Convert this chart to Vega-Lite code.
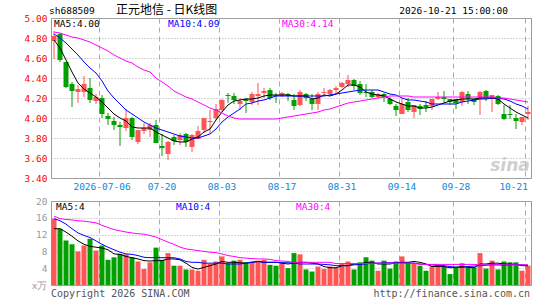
{
  "$schema": "https://vega.github.io/schema/vega-lite/v6.json",
  "padding": {"left": 5, "top": 3, "right": 5, "bottom": 2},
  "background": "white",
  "spacing": 23,
  "bounds": "flush",
  "config": {
    "view": {"stroke": "#999", "strokeWidth": 1},
    "font": "DejaVu Sans Mono",
    "axis": {"labelFont": "DejaVu Sans Mono", "labelFontSize": 9.5, "labelOverlap": false}
  },
  "datasets": {
    "k": [
      {"d":"2026-06-24","o":4.77,"h":4.87,"l":4.59,"c":4.82,"v":15.8,"m5":4.78,"m10":4.84,"m30":4.86,"vm5":13.4,"vm10":15.8,"vm30":16.4},
      {"d":"2026-06-25","o":4.84,"h":4.85,"l":4.56,"c":4.58,"v":13.4,"m5":4.70,"m10":4.80,"m30":4.85,"vm5":13.4,"vm10":15.3,"vm30":15.8},
      {"d":"2026-06-26","o":4.56,"h":4.56,"l":4.30,"c":4.31,"v":10.6,"m5":4.58,"m10":4.75,"m30":4.83,"vm5":12.6,"vm10":14.5,"vm30":15.6},
      {"d":"2026-06-29","o":4.34,"h":4.36,"l":4.11,"c":4.27,"v":9.7,"m5":4.46,"m10":4.69,"m30":4.81,"vm5":11.6,"vm10":13.4,"vm30":15.5},
      {"d":"2026-06-30","o":4.26,"h":4.33,"l":4.15,"c":4.29,"v":8.0,"m5":4.35,"m10":4.63,"m30":4.80,"vm5":10.5,"vm10":12.4,"vm30":15.3},
      {"d":"2026-07-01","o":4.26,"h":4.42,"l":4.21,"c":4.34,"v":9.4,"m5":4.29,"m10":4.56,"m30":4.78,"vm5":9.7,"vm10":11.8,"vm30":15.2},
      {"d":"2026-07-02","o":4.30,"h":4.40,"l":4.15,"c":4.18,"v":11.0,"m5":4.25,"m10":4.50,"m30":4.76,"vm5":9.2,"vm10":11.3,"vm30":15.0},
      {"d":"2026-07-03","o":4.17,"h":4.24,"l":4.14,"c":4.21,"v":8.2,"m5":4.21,"m10":4.45,"m30":4.73,"vm5":9.0,"vm10":10.5,"vm30":14.8},
      {"d":"2026-07-06","o":4.20,"h":4.23,"l":4.00,"c":4.04,"v":9.4,"m5":4.16,"m10":4.37,"m30":4.70,"vm5":8.8,"vm10":9.7,"vm30":14.2},
      {"d":"2026-07-07","o":4.02,"h":4.05,"l":3.93,"c":3.99,"v":6.0,"m5":4.10,"m10":4.27,"m30":4.67,"vm5":8.4,"vm10":9.0,"vm30":13.7},
      {"d":"2026-07-08","o":3.97,"h":4.01,"l":3.88,"c":3.93,"v":6.6,"m5":4.04,"m10":4.20,"m30":4.63,"vm5":7.4,"vm10":8.4,"vm30":13.2},
      {"d":"2026-07-09","o":3.93,"h":3.96,"l":3.72,"c":3.91,"v":7.4,"m5":4.00,"m10":4.14,"m30":4.60,"vm5":7.3,"vm10":7.8,"vm30":12.9},
      {"d":"2026-07-10","o":3.90,"h":4.09,"l":3.87,"c":4.00,"v":7.3,"m5":3.97,"m10":4.08,"m30":4.57,"vm5":6.8,"vm10":7.4,"vm30":12.6},
      {"d":"2026-07-13","o":4.00,"h":4.01,"l":3.78,"c":3.81,"v":6.6,"m5":3.91,"m10":4.04,"m30":4.55,"vm5":6.5,"vm10":7.3,"vm30":12.4},
      {"d":"2026-07-14","o":3.76,"h":3.88,"l":3.74,"c":3.88,"v":5.6,"m5":3.90,"m10":4.00,"m30":4.51,"vm5":6.2,"vm10":7.0,"vm30":12.2},
      {"d":"2026-07-15","o":3.87,"h":3.95,"l":3.84,"c":3.90,"v":3.8,"m5":3.90,"m10":3.96,"m30":4.48,"vm5":5.8,"vm10":6.6,"vm30":12.1},
      {"d":"2026-07-16","o":3.88,"h":3.95,"l":3.81,"c":3.93,"v":5.4,"m5":3.90,"m10":3.93,"m30":4.46,"vm5":5.7,"vm10":6.5,"vm30":11.8},
      {"d":"2026-07-17","o":3.93,"h":3.98,"l":3.75,"c":3.75,"v":8.9,"m5":3.86,"m10":3.90,"m30":4.40,"vm5":5.8,"vm10":6.5,"vm30":11.4},
      {"d":"2026-07-20","o":3.72,"h":3.84,"l":3.62,"c":3.70,"v":6.0,"m5":3.83,"m10":3.88,"m30":4.36,"vm5":5.8,"vm10":6.5,"vm30":10.8},
      {"d":"2026-07-21","o":3.64,"h":3.77,"l":3.58,"c":3.76,"v":7.6,"m5":3.80,"m10":3.86,"m30":4.32,"vm5":6.2,"vm10":6.5,"vm30":10.2},
      {"d":"2026-07-22","o":3.81,"h":3.83,"l":3.73,"c":3.77,"v":4.6,"m5":3.77,"m10":3.84,"m30":4.27,"vm5":6.2,"vm10":6.5,"vm30":9.7},
      {"d":"2026-07-23","o":3.78,"h":3.85,"l":3.73,"c":3.83,"v":4.6,"m5":3.76,"m10":3.82,"m30":4.24,"vm5":6.0,"vm10":6.2,"vm30":9.0},
      {"d":"2026-07-24","o":3.84,"h":3.85,"l":3.71,"c":3.76,"v":3.7,"m5":3.76,"m10":3.81,"m30":4.21,"vm5":5.2,"vm10":5.6,"vm30":8.6},
      {"d":"2026-07-27","o":3.71,"h":3.84,"l":3.66,"c":3.83,"v":3.7,"m5":3.79,"m10":3.80,"m30":4.19,"vm5":4.2,"vm10":5.4,"vm30":8.4},
      {"d":"2026-07-28","o":3.79,"h":3.92,"l":3.79,"c":3.87,"v":3.4,"m5":3.81,"m10":3.80,"m30":4.16,"vm5":3.8,"vm10":5.4,"vm30":8.2},
      {"d":"2026-07-29","o":3.88,"h":4.00,"l":3.85,"c":4.00,"v":6.0,"m5":3.86,"m10":3.82,"m30":4.13,"vm5":4.2,"vm10":5.2,"vm30":8.0},
      {"d":"2026-07-30","o":3.96,"h":4.08,"l":3.84,"c":3.97,"v":5.0,"m5":3.89,"m10":3.84,"m30":4.10,"vm5":4.6,"vm10":5.2,"vm30":7.8},
      {"d":"2026-07-31","o":4.00,"h":4.14,"l":3.98,"c":4.09,"v":5.6,"m5":3.98,"m10":3.89,"m30":4.08,"vm5":5.0,"vm10":5.2,"vm30":7.7},
      {"d":"2026-08-03","o":4.08,"h":4.19,"l":4.06,"c":4.18,"v":6.8,"m5":4.06,"m10":3.96,"m30":4.05,"vm5":5.6,"vm10":5.2,"vm30":7.4},
      {"d":"2026-08-04","o":4.23,"h":4.25,"l":4.15,"c":4.22,"v":5.2,"m5":4.13,"m10":4.01,"m30":4.02,"vm5":5.4,"vm10":5.0,"vm30":7.0},
      {"d":"2026-08-05","o":4.22,"h":4.25,"l":4.14,"c":4.18,"v":5.8,"m5":4.17,"m10":4.05,"m30":4.00,"vm5":5.4,"vm10":5.0,"vm30":6.8},
      {"d":"2026-08-06","o":4.14,"h":4.20,"l":4.08,"c":4.17,"v":6.0,"m5":4.18,"m10":4.09,"m30":3.99,"vm5":5.3,"vm10":5.0,"vm30":6.5},
      {"d":"2026-08-07","o":4.19,"h":4.20,"l":4.05,"c":4.17,"v":5.4,"m5":4.19,"m10":4.14,"m30":3.99,"vm5":5.2,"vm10":5.2,"vm30":6.4},
      {"d":"2026-08-10","o":4.16,"h":4.26,"l":4.13,"c":4.24,"v":5.6,"m5":4.19,"m10":4.15,"m30":3.99,"vm5":5.4,"vm10":5.4,"vm30":6.3},
      {"d":"2026-08-11","o":4.22,"h":4.35,"l":4.13,"c":4.24,"v":5.8,"m5":4.20,"m10":4.17,"m30":3.99,"vm5":5.6,"vm10":5.6,"vm30":6.2},
      {"d":"2026-08-12","o":4.25,"h":4.30,"l":4.20,"c":4.27,"v":6.0,"m5":4.22,"m10":4.18,"m30":3.99,"vm5":5.4,"vm10":5.4,"vm30":6.2},
      {"d":"2026-08-13","o":4.28,"h":4.30,"l":4.18,"c":4.20,"v":4.8,"m5":4.23,"m10":4.20,"m30":3.99,"vm5":5.4,"vm10":5.4,"vm30":6.1},
      {"d":"2026-08-14","o":4.23,"h":4.25,"l":4.15,"c":4.22,"v":4.6,"m5":4.23,"m10":4.22,"m30":3.99,"vm5":5.4,"vm10":5.4,"vm30":5.8},
      {"d":"2026-08-17","o":4.22,"h":4.26,"l":4.21,"c":4.25,"v":5.2,"m5":4.23,"m10":4.22,"m30":4.00,"vm5":5.2,"vm10":5.3,"vm30":5.7},
      {"d":"2026-08-18","o":4.24,"h":4.25,"l":4.17,"c":4.22,"v":4.0,"m5":4.23,"m10":4.22,"m30":4.01,"vm5":5.0,"vm10":5.3,"vm30":5.6},
      {"d":"2026-08-19","o":4.18,"h":4.24,"l":4.08,"c":4.12,"v":7.6,"m5":4.22,"m10":4.22,"m30":4.02,"vm5":5.2,"vm10":5.2,"vm30":5.4},
      {"d":"2026-08-20","o":4.13,"h":4.28,"l":4.12,"c":4.26,"v":7.3,"m5":4.22,"m10":4.22,"m30":4.03,"vm5":5.4,"vm10":5.0,"vm30":5.4},
      {"d":"2026-08-21","o":4.24,"h":4.25,"l":4.17,"c":4.20,"v":3.7,"m5":4.22,"m10":4.22,"m30":4.04,"vm5":5.4,"vm10":5.0,"vm30":5.4},
      {"d":"2026-08-24","o":4.19,"h":4.24,"l":4.08,"c":4.14,"v":3.2,"m5":4.19,"m10":4.22,"m30":4.05,"vm5":5.2,"vm10":5.0,"vm30":5.4},
      {"d":"2026-08-25","o":4.14,"h":4.26,"l":4.08,"c":4.24,"v":4.4,"m5":4.20,"m10":4.22,"m30":4.06,"vm5":5.0,"vm10":5.0,"vm30":5.4},
      {"d":"2026-08-26","o":4.25,"h":4.30,"l":4.22,"c":4.26,"v":3.8,"m5":4.23,"m10":4.22,"m30":4.08,"vm5":4.4,"vm10":4.9,"vm30":5.4},
      {"d":"2026-08-27","o":4.24,"h":4.29,"l":4.22,"c":4.28,"v":4.4,"m5":4.22,"m10":4.23,"m30":4.09,"vm5":4.1,"vm10":4.8,"vm30":5.4},
      {"d":"2026-08-28","o":4.28,"h":4.32,"l":4.24,"c":4.30,"v":4.2,"m5":4.24,"m10":4.24,"m30":4.11,"vm5":4.1,"vm10":4.6,"vm30":5.1},
      {"d":"2026-08-31","o":4.31,"h":4.36,"l":4.30,"c":4.35,"v":5.0,"m5":4.28,"m10":4.25,"m30":4.13,"vm5":4.6,"vm10":4.6,"vm30":5.1},
      {"d":"2026-09-01","o":4.34,"h":4.43,"l":4.31,"c":4.38,"v":5.6,"m5":4.33,"m10":4.26,"m30":4.15,"vm5":4.6,"vm10":4.6,"vm30":5.1},
      {"d":"2026-09-02","o":4.38,"h":4.39,"l":4.28,"c":4.32,"v":3.7,"m5":4.33,"m10":4.27,"m30":4.16,"vm5":5.0,"vm10":4.8,"vm30":5.1},
      {"d":"2026-09-03","o":4.34,"h":4.37,"l":4.23,"c":4.25,"v":5.4,"m5":4.31,"m10":4.28,"m30":4.17,"vm5":5.0,"vm10":4.9,"vm30":5.1},
      {"d":"2026-09-04","o":4.26,"h":4.34,"l":4.21,"c":4.25,"v":6.6,"m5":4.26,"m10":4.28,"m30":4.18,"vm5":5.4,"vm10":5.0,"vm30":5.1},
      {"d":"2026-09-07","o":4.26,"h":4.28,"l":4.20,"c":4.21,"v":5.8,"m5":4.24,"m10":4.28,"m30":4.19,"vm5":5.4,"vm10":5.2,"vm30":5.2},
      {"d":"2026-09-08","o":4.21,"h":4.25,"l":4.20,"c":4.24,"v":3.4,"m5":4.23,"m10":4.28,"m30":4.20,"vm5":5.0,"vm10":5.2,"vm30":5.2},
      {"d":"2026-09-09","o":4.24,"h":4.25,"l":4.16,"c":4.21,"v":5.8,"m5":4.22,"m10":4.26,"m30":4.21,"vm5":5.0,"vm10":5.3,"vm30":5.2},
      {"d":"2026-09-10","o":4.19,"h":4.21,"l":4.13,"c":4.14,"v":3.9,"m5":4.19,"m10":4.24,"m30":4.22,"vm5":5.0,"vm10":5.3,"vm30":5.2},
      {"d":"2026-09-11","o":4.12,"h":4.14,"l":4.02,"c":4.08,"v":5.6,"m5":4.16,"m10":4.23,"m30":4.22,"vm5":5.3,"vm10":5.3,"vm30":5.2},
      {"d":"2026-09-14","o":4.04,"h":4.20,"l":4.04,"c":4.14,"v":6.8,"m5":4.14,"m10":4.20,"m30":4.22,"vm5":5.4,"vm10":5.3,"vm30":5.2},
      {"d":"2026-09-15","o":4.16,"h":4.20,"l":4.06,"c":4.08,"v":5.4,"m5":4.12,"m10":4.18,"m30":4.22,"vm5":5.4,"vm10":5.2,"vm30":5.2},
      {"d":"2026-09-16","o":4.06,"h":4.13,"l":4.00,"c":4.13,"v":5.2,"m5":4.12,"m10":4.18,"m30":4.21,"vm5":5.6,"vm10":5.2,"vm30":5.2},
      {"d":"2026-09-17","o":4.12,"h":4.14,"l":4.03,"c":4.09,"v":4.6,"m5":4.10,"m10":4.17,"m30":4.21,"vm5":5.4,"vm10":5.0,"vm30":4.9},
      {"d":"2026-09-18","o":4.13,"h":4.17,"l":4.06,"c":4.11,"v":3.4,"m5":4.10,"m10":4.16,"m30":4.21,"vm5":5.0,"vm10":4.9,"vm30":4.9},
      {"d":"2026-09-21","o":4.12,"h":4.19,"l":4.08,"c":4.19,"v":4.4,"m5":4.11,"m10":4.14,"m30":4.21,"vm5":4.4,"vm10":4.8,"vm30":4.9},
      {"d":"2026-09-22","o":4.19,"h":4.26,"l":4.18,"c":4.21,"v":4.6,"m5":4.13,"m10":4.14,"m30":4.21,"vm5":4.4,"vm10":4.6,"vm30":4.9},
      {"d":"2026-09-23","o":4.21,"h":4.27,"l":4.15,"c":4.19,"v":4.4,"m5":4.15,"m10":4.14,"m30":4.21,"vm5":4.4,"vm10":4.6,"vm30":4.9},
      {"d":"2026-09-24","o":4.19,"h":4.19,"l":4.13,"c":4.16,"v":2.6,"m5":4.17,"m10":4.14,"m30":4.21,"vm5":4.1,"vm10":4.4,"vm30":4.9},
      {"d":"2026-09-28","o":4.19,"h":4.19,"l":4.09,"c":4.15,"v":4.4,"m5":4.18,"m10":4.14,"m30":4.21,"vm5":4.2,"vm10":4.2,"vm30":4.9},
      {"d":"2026-09-29","o":4.16,"h":4.27,"l":4.12,"c":4.26,"v":5.2,"m5":4.19,"m10":4.16,"m30":4.21,"vm5":4.4,"vm10":4.2,"vm30":4.9},
      {"d":"2026-09-30","o":4.24,"h":4.27,"l":4.14,"c":4.19,"v":4.2,"m5":4.19,"m10":4.17,"m30":4.21,"vm5":4.2,"vm10":4.4,"vm30":4.9},
      {"d":"2026-10-08","o":4.19,"h":4.19,"l":4.13,"c":4.16,"v":4.2,"m5":4.19,"m10":4.18,"m30":4.21,"vm5":4.1,"vm10":4.5,"vm30":4.9},
      {"d":"2026-10-09","o":4.19,"h":4.27,"l":4.03,"c":4.26,"v":7.6,"m5":4.20,"m10":4.19,"m30":4.21,"vm5":5.0,"vm10":4.6,"vm30":4.8},
      {"d":"2026-10-12","o":4.27,"h":4.28,"l":4.17,"c":4.20,"v":3.9,"m5":4.20,"m10":4.19,"m30":4.21,"vm5":5.0,"vm10":4.7,"vm30":4.8},
      {"d":"2026-10-13","o":4.19,"h":4.23,"l":4.06,"c":4.23,"v":5.8,"m5":4.20,"m10":4.20,"m30":4.21,"vm5":5.2,"vm10":4.8,"vm30":4.8},
      {"d":"2026-10-14","o":4.22,"h":4.23,"l":4.13,"c":4.14,"v":3.7,"m5":4.19,"m10":4.20,"m30":4.20,"vm5":5.2,"vm10":4.8,"vm30":4.8},
      {"d":"2026-10-15","o":4.04,"h":4.13,"l":3.98,"c":3.99,"v":5.6,"m5":4.14,"m10":4.19,"m30":4.20,"vm5":5.0,"vm10":4.7,"vm30":4.8},
      {"d":"2026-10-16","o":4.04,"h":4.13,"l":3.99,"c":4.03,"v":5.4,"m5":4.10,"m10":4.17,"m30":4.19,"vm5":5.0,"vm10":4.8,"vm30":4.8},
      {"d":"2026-10-19","o":4.00,"h":4.04,"l":3.89,"c":3.97,"v":5.4,"m5":4.06,"m10":4.14,"m30":4.18,"vm5":4.9,"vm10":4.9,"vm30":4.8},
      {"d":"2026-10-20","o":3.96,"h":4.01,"l":3.93,"c":4.01,"v":3.4,"m5":4.03,"m10":4.12,"m30":4.17,"vm5":4.6,"vm10":4.8,"vm30":4.8},
      {"d":"2026-10-21","o":4.04,"h":4.12,"l":3.98,"c":4.06,"v":4.6,"m5":4.00,"m10":4.09,"m30":4.16,"vm5":4.6,"vm10":4.7,"vm30":4.8}
    ]
  },
  "data": {"name": "k"},
  "vconcat": [
    {
      "width": 480,
      "height": 160,
      "encoding": {
        "x": {
          "field": "d", "type": "ordinal",
          "scale": {"type": "band", "paddingInner": 0, "paddingOuter": 0},
          "axis": {
            "title": null,
            "values": ["2026-07-06","2026-07-20","2026-08-03","2026-08-17","2026-08-31","2026-09-14","2026-09-28","2026-10-21"],
            "labelExpr": "datum.value == '2026-07-06' ? datum.value : substring(datum.value, 5)",
            "labelAngle": 0,
            "labelAlign": {"condition": {"test": "datum.value == '2026-10-21'", "value": "right"}, "value": "center"},
            "labelColor": "#0a88d8",
            "labelPadding": 3,
            "ticks": false,
            "domain": false,
            "grid": true,
            "gridColor": "#aaaaaa",
            "gridDash": [5, 4],
            "bandPosition": 0
          }
        }
      },
      "layer": [
        {
          "mark": {"type": "rule", "strokeWidth": 1},
          "encoding": {
            "y": {
              "field": "l", "type": "quantitative",
              "scale": {"domain": [3.4, 5.0], "zero": false, "nice": false},
              "axis": {"title": null, "values": [3.4, 3.6, 3.8, 4.0, 4.2, 4.4, 4.6, 4.8, 5.0], "format": ".2f", "labelColor": "#ff0000", "labelPadding": 4, "labelOverlap": false, "ticks": false, "domain": false, "grid": true, "gridColor": "#aaaaaa", "gridDash": [1, 2], "minExtent": 45, "maxExtent": 45}
            },
            "y2": {"field": "h"},
            "color": {"condition": {"test": "datum.c >= datum.o", "value": "#ff5555"}, "value": "#00a000"}
          }
        },
        {
          "mark": {"type": "bar", "width": 5},
          "encoding": {
            "y": {"field": "o", "type": "quantitative",
              "axis": {"title": null, "values": [3.4, 3.6, 3.8, 4.0, 4.2, 4.4, 4.6, 4.8, 5.0], "format": ".2f", "labelColor": "#ff0000", "labelPadding": 4, "labelOverlap": false, "ticks": false, "domain": false, "grid": true, "gridColor": "#aaaaaa", "gridDash": [1, 2], "minExtent": 45, "maxExtent": 45}},
            "y2": {"field": "c"},
            "color": {"condition": {"test": "datum.c >= datum.o", "value": "#ff5555"}, "value": "#00a000"}
          }
        },
        {
          "mark": {"type": "line", "color": "#000000", "strokeWidth": 1},
          "encoding": {"y": {"field": "m5", "type": "quantitative",
            "axis": {"title": null, "values": [3.4, 3.6, 3.8, 4.0, 4.2, 4.4, 4.6, 4.8, 5.0], "format": ".2f", "labelColor": "#ff0000", "labelPadding": 4, "labelOverlap": false, "ticks": false, "domain": false, "grid": true, "gridColor": "#aaaaaa", "gridDash": [1, 2], "minExtent": 45, "maxExtent": 45}}}
        },
        {
          "mark": {"type": "line", "color": "#0000ff", "strokeWidth": 1},
          "encoding": {"y": {"field": "m10", "type": "quantitative",
            "axis": {"title": null, "values": [3.4, 3.6, 3.8, 4.0, 4.2, 4.4, 4.6, 4.8, 5.0], "format": ".2f", "labelColor": "#ff0000", "labelPadding": 4, "labelOverlap": false, "ticks": false, "domain": false, "grid": true, "gridColor": "#aaaaaa", "gridDash": [1, 2], "minExtent": 45, "maxExtent": 45}}}
        },
        {
          "mark": {"type": "line", "color": "#ff00ff", "strokeWidth": 1},
          "encoding": {"y": {"field": "m30", "type": "quantitative",
            "axis": {"title": null, "values": [3.4, 3.6, 3.8, 4.0, 4.2, 4.4, 4.6, 4.8, 5.0], "format": ".2f", "labelColor": "#ff0000", "labelPadding": 4, "labelOverlap": false, "ticks": false, "domain": false, "grid": true, "gridColor": "#aaaaaa", "gridDash": [1, 2], "minExtent": 45, "maxExtent": 45}}}
        },
        {
          "data": {"values": [{"t": "MA5:4.00", "x": "2026-06-24", "col": "#000000", "dx": -1}, {"t": "MA10:4.09", "x": "2026-07-21", "col": "#0000ff", "dx": 0}, {"t": "MA30:4.14", "x": "2026-08-17", "col": "#ff00ff", "dx": 2}]},
          "mark": {"type": "text", "align": "left", "baseline": "middle", "fontSize": 9.5},
          "encoding": {
            "x": {"field": "x", "type": "ordinal"},
            "y": {"datum": 4.937, "type": "quantitative",
              "axis": {"title": null, "values": [3.4, 3.6, 3.8, 4.0, 4.2, 4.4, 4.6, 4.8, 5.0], "format": ".2f", "labelColor": "#ff0000", "labelPadding": 4, "labelOverlap": false, "ticks": false, "domain": false, "grid": true, "gridColor": "#aaaaaa", "gridDash": [1, 2], "minExtent": 45, "maxExtent": 45}},
            "color": {"field": "col", "type": "nominal", "scale": null},
            "text": {"field": "t"}
          }
        },
        {
          "data": {"values": [{"t": "sh688509"}]},
          "mark": {"type": "text", "align": "left", "baseline": "middle", "color": "#000000", "fontSize": 9.5, "dx": -5},
          "encoding": {
            "x": {"datum": "2026-06-24", "type": "ordinal"},
            "y": {"datum": 5.072, "type": "quantitative",
              "axis": {"title": null, "values": [3.4, 3.6, 3.8, 4.0, 4.2, 4.4, 4.6, 4.8, 5.0], "format": ".2f", "labelColor": "#ff0000", "labelPadding": 4, "labelOverlap": false, "ticks": false, "domain": false, "grid": true, "gridColor": "#aaaaaa", "gridDash": [1, 2], "minExtent": 45, "maxExtent": 45}},
            "text": {"field": "t"}
          }
        },
        {
          "data": {"values": [{"t": "正元地信  -  日K线图"}]},
          "mark": {"type": "text", "align": "left", "baseline": "middle", "color": "#000000", "font": "Noto Sans CJK SC", "fontSize": 12, "dx": 2},
          "encoding": {
            "x": {"datum": "2026-07-08", "type": "ordinal"},
            "y": {"datum": 5.082, "type": "quantitative",
              "axis": {"title": null, "values": [3.4, 3.6, 3.8, 4.0, 4.2, 4.4, 4.6, 4.8, 5.0], "format": ".2f", "labelColor": "#ff0000", "labelPadding": 4, "labelOverlap": false, "ticks": false, "domain": false, "grid": true, "gridColor": "#aaaaaa", "gridDash": [1, 2], "minExtent": 45, "maxExtent": 45}},
            "text": {"field": "t"}
          }
        },
        {
          "data": {"values": [{"t": "2026-10-21 15:00:00"}]},
          "mark": {"type": "text", "align": "right", "baseline": "middle", "color": "#000000", "fontSize": 9.5, "dx": -2},
          "encoding": {
            "x": {"datum": "2026-10-16", "type": "ordinal"},
            "y": {"datum": 5.069, "type": "quantitative",
              "axis": {"title": null, "values": [3.4, 3.6, 3.8, 4.0, 4.2, 4.4, 4.6, 4.8, 5.0], "format": ".2f", "labelColor": "#ff0000", "labelPadding": 4, "labelOverlap": false, "ticks": false, "domain": false, "grid": true, "gridColor": "#aaaaaa", "gridDash": [1, 2], "minExtent": 45, "maxExtent": 45}},
            "text": {"field": "t"}
          }
        },
        {
          "data": {"values": [{"t": "sina"}]},
          "mark": {"type": "text", "align": "center", "baseline": "middle", "color": "#c4c4c4", "font": "DejaVu Sans", "fontSize": 17, "fontStyle": "italic", "fontWeight": "bold", "opacity": 0.8},
          "encoding": {
            "x": {"datum": "2026-10-16", "type": "ordinal"},
            "y": {"datum": 3.52, "type": "quantitative",
              "axis": {"title": null, "values": [3.4, 3.6, 3.8, 4.0, 4.2, 4.4, 4.6, 4.8, 5.0], "format": ".2f", "labelColor": "#ff0000", "labelPadding": 4, "labelOverlap": false, "ticks": false, "domain": false, "grid": true, "gridColor": "#aaaaaa", "gridDash": [1, 2], "minExtent": 45, "maxExtent": 45}},
            "text": {"field": "t"}
          }
        }
      ]
    },
    {
      "width": 480,
      "height": 84,
      "encoding": {
        "x": {
          "field": "d", "type": "ordinal",
          "scale": {"type": "band", "paddingInner": 0, "paddingOuter": 0},
          "axis": {
            "title": null,
            "values": ["2026-07-06","2026-07-20","2026-08-03","2026-08-17","2026-08-31","2026-09-14","2026-09-28","2026-10-21"],
            "labels": false,
            "ticks": false,
            "domain": false,
            "grid": true,
            "gridColor": "#aaaaaa",
            "gridDash": [5, 4],
            "bandPosition": 0
          }
        }
      },
      "layer": [
        {
          "mark": {"type": "bar", "width": 5},
          "encoding": {
            "y": {
              "field": "v", "type": "quantitative",
              "scale": {"domain": [0, 20], "nice": false},
              "axis": {"title": null, "values": [0, 4, 8, 12, 16, 20], "labelExpr": "datum.value == 0 ? 'x万' : datum.label", "labelColor": "#999999", "labelPadding": 4, "labelOverlap": false, "ticks": false, "domain": false, "grid": true, "gridColor": "#aaaaaa", "gridDash": [1, 2], "minExtent": 45, "maxExtent": 45}
            },
            "color": {"condition": {"test": "datum.c >= datum.o", "value": "#ff5555"}, "value": "#00a000"}
          }
        },
        {
          "mark": {"type": "line", "color": "#000000", "strokeWidth": 1},
          "encoding": {"y": {"field": "vm5", "type": "quantitative",
            "axis": {"title": null, "values": [0, 4, 8, 12, 16, 20], "labelExpr": "datum.value == 0 ? 'x万' : datum.label", "labelColor": "#999999", "labelPadding": 4, "labelOverlap": false, "ticks": false, "domain": false, "grid": true, "gridColor": "#aaaaaa", "gridDash": [1, 2], "minExtent": 45, "maxExtent": 45}}}
        },
        {
          "mark": {"type": "line", "color": "#0000ff", "strokeWidth": 1},
          "encoding": {"y": {"field": "vm10", "type": "quantitative",
            "axis": {"title": null, "values": [0, 4, 8, 12, 16, 20], "labelExpr": "datum.value == 0 ? 'x万' : datum.label", "labelColor": "#999999", "labelPadding": 4, "labelOverlap": false, "ticks": false, "domain": false, "grid": true, "gridColor": "#aaaaaa", "gridDash": [1, 2], "minExtent": 45, "maxExtent": 45}}}
        },
        {
          "mark": {"type": "line", "color": "#ff00ff", "strokeWidth": 1},
          "encoding": {"y": {"field": "vm30", "type": "quantitative",
            "axis": {"title": null, "values": [0, 4, 8, 12, 16, 20], "labelExpr": "datum.value == 0 ? 'x万' : datum.label", "labelColor": "#999999", "labelPadding": 4, "labelOverlap": false, "ticks": false, "domain": false, "grid": true, "gridColor": "#aaaaaa", "gridDash": [1, 2], "minExtent": 45, "maxExtent": 45}}}
        },
        {
          "data": {"values": [{"t": "MA5:4", "x": "2026-06-24", "col": "#000000"}, {"t": "MA10:4", "x": "2026-07-22", "col": "#0000ff"}, {"t": "MA30:4", "x": "2026-08-19", "col": "#ff00ff"}]},
          "mark": {"type": "text", "align": "left", "baseline": "middle", "fontSize": 9.5, "dx": 2},
          "encoding": {
            "x": {"field": "x", "type": "ordinal"},
            "y": {"datum": 18.6, "type": "quantitative",
              "axis": {"title": null, "values": [0, 4, 8, 12, 16, 20], "labelExpr": "datum.value == 0 ? 'x万' : datum.label", "labelColor": "#999999", "labelPadding": 4, "labelOverlap": false, "ticks": false, "domain": false, "grid": true, "gridColor": "#aaaaaa", "gridDash": [1, 2], "minExtent": 45, "maxExtent": 45}},
            "color": {"field": "col", "type": "nominal", "scale": null},
            "text": {"field": "t"}
          }
        },
        {
          "data": {"values": [{"t": "Copyright 2026 SINA.COM", "x": "2026-06-24", "a": "left", "dx": -3}]},
          "mark": {"type": "text", "align": "left", "baseline": "middle", "color": "#555555", "fontSize": 10, "dx": -3},
          "encoding": {
            "x": {"field": "x", "type": "ordinal"},
            "y": {"datum": -2.1, "type": "quantitative",
              "axis": {"title": null, "values": [0, 4, 8, 12, 16, 20], "labelExpr": "datum.value == 0 ? 'x万' : datum.label", "labelColor": "#999999", "labelPadding": 4, "labelOverlap": false, "ticks": false, "domain": false, "grid": true, "gridColor": "#aaaaaa", "gridDash": [1, 2], "minExtent": 45, "maxExtent": 45}},
            "text": {"field": "t"}
          }
        },
        {
          "data": {"values": [{"t": "http://finance.sina.com.cn", "x": "2026-10-21"}]},
          "mark": {"type": "text", "align": "right", "baseline": "middle", "color": "#555555", "fontSize": 10, "dx": 2},
          "encoding": {
            "x": {"field": "x", "type": "ordinal"},
            "y": {"datum": -2.1, "type": "quantitative",
              "axis": {"title": null, "values": [0, 4, 8, 12, 16, 20], "labelExpr": "datum.value == 0 ? 'x万' : datum.label", "labelColor": "#999999", "labelPadding": 4, "labelOverlap": false, "ticks": false, "domain": false, "grid": true, "gridColor": "#aaaaaa", "gridDash": [1, 2], "minExtent": 45, "maxExtent": 45}},
            "text": {"field": "t"}
          }
        }
      ]
    }
  ]
}
